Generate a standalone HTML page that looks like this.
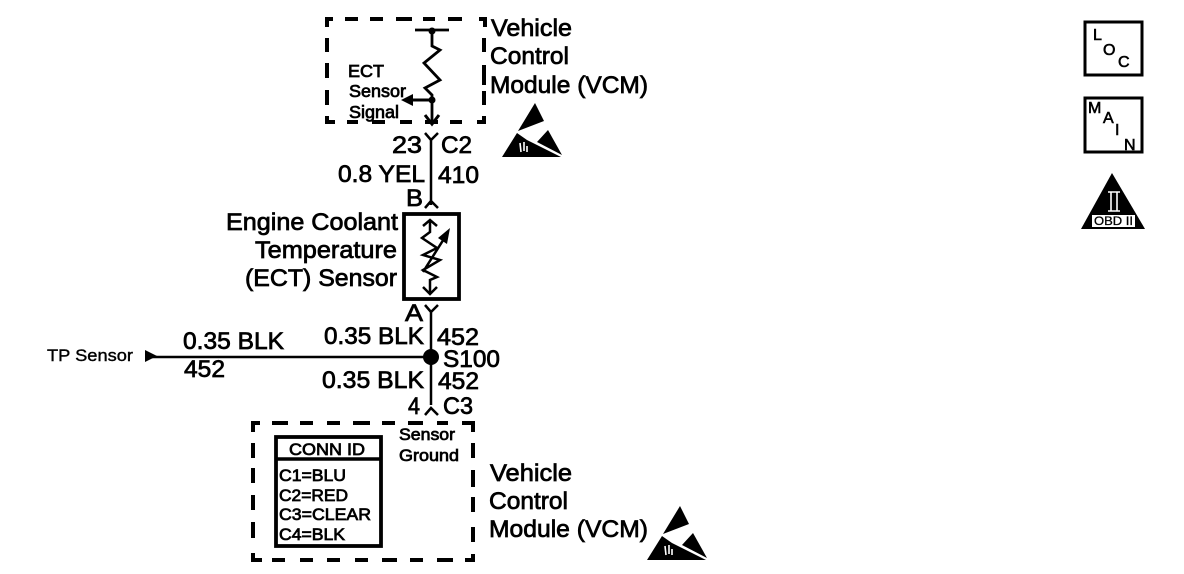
<!DOCTYPE html>
<html><head><meta charset="utf-8"><style>
html,body{margin:0;padding:0;background:#fff;width:1184px;height:574px;overflow:hidden}
svg{display:block}
text{font-family:"Liberation Sans",sans-serif;fill:#000;stroke:#000;stroke-width:.75}
.l{font-size:24.5px}.s{font-size:17.5px}.x{font-size:17px}.t{font-size:16px;stroke-width:.6}
.n{fill:none;stroke:#000}
</style></head><body>
<svg width="1184" height="574" viewBox="0 0 1184 574">
<!-- top VCM -->
<path class="n" stroke-width="4" d="M333 19H327V27M345 19H358M370 19H383M396 19H412M423 19H435M448 19H462M479 19H485V27M327 38V52M327 63V78M327 90V105M327 116V122H335M347 122H358M372 122H385M400 122H412M425 122H438M450 122H462M477 122H484V116M484 38V52M484 65V85M484 91V105"/>
<path class="n" stroke-width="2.8" d="M415 30H449M432 30V46L440 50 424 63 440 80 425 88 432 95V122"/>
<circle cx="432" cy="31" r="3.5"/><circle cx="432" cy="100" r="3.5"/>
<path class="n" stroke-width="3" d="M432 100H410"/><path d="M401 100L413 94V106Z"/>
<path class="n" stroke-width="3" d="M425 115L432 124 439 115"/>
<text class="s" x="348" y="77" textLength="36" lengthAdjust="spacingAndGlyphs">ECT</text>
<text class="s" x="349" y="97" textLength="57" lengthAdjust="spacingAndGlyphs">Sensor</text>
<text class="s" x="349" y="118" textLength="50" lengthAdjust="spacingAndGlyphs">Signal</text>
<text class="l" x="491" y="36" textLength="81" lengthAdjust="spacingAndGlyphs">Vehicle</text>
<text class="l" x="490" y="64" textLength="79" lengthAdjust="spacingAndGlyphs">Control</text>
<text class="l" x="490" y="93" textLength="158" lengthAdjust="spacingAndGlyphs">Module (VCM)</text>
<!-- ESD top -->
<g id="e">
<path d="M535 103L544 121 518 131Z"/>
<path d="M502 157L517 133 527 140 561 157Z"/>
<path d="M537 142L548 130 562 155Z"/>
<path d="M521 152L520 143M524 151L524 142M527 152L527 146" fill="none" style="stroke:#fff" stroke-width="1.6"/>
</g>
<!-- wire upper -->
<path class="n" stroke-width="2.5" d="M425 133L431 140 438 133M431 140V205M425 208L431 201 438 208"/>
<text class="l" x="392" y="153" textLength="30" lengthAdjust="spacingAndGlyphs">23</text>
<text class="l" x="441" y="153" textLength="31" lengthAdjust="spacingAndGlyphs">C2</text>
<text class="l" x="338" y="182" textLength="87" lengthAdjust="spacingAndGlyphs">0.8 YEL</text>
<text class="l" x="438" y="183" textLength="41" lengthAdjust="spacingAndGlyphs">410</text>
<text class="l" x="406" y="206" textLength="17" lengthAdjust="spacingAndGlyphs">B</text>
<!-- ECT sensor -->
<rect class="n" x="404" y="214" width="55" height="85" stroke-width="3.8"/>
<path class="n" stroke-width="2.5" d="M430 220V232L422 238 437 248 423 255 440 260 423 270 437 277 430 280V293M423 226L430 220 437 226M423 287L430 294 437 287M423 272L447 234"/>
<path d="M450 228L447 244 438 238Z"/>
<text class="l" x="226" y="230" textLength="172" lengthAdjust="spacingAndGlyphs">Engine Coolant</text>
<text class="l" x="255" y="258" textLength="142" lengthAdjust="spacingAndGlyphs">Temperature</text>
<text class="l" x="245" y="286" textLength="152" lengthAdjust="spacingAndGlyphs">(ECT) Sensor</text>
<!-- wire lower -->
<path class="n" stroke-width="2.5" d="M425 305L431 312 438 305M431 312V405M425 415L431 408 438 415"/>
<path class="n" stroke-width="2.5" d="M150 357H431"/><path d="M145 350L157 356 145 362Z"/>
<circle cx="431" cy="357" r="8"/>
<text class="l" x="405" y="321" textLength="18" lengthAdjust="spacingAndGlyphs">A</text>
<text class="l" x="324" y="344" textLength="100" lengthAdjust="spacingAndGlyphs">0.35 BLK</text>
<text class="l" x="437" y="345" textLength="42" lengthAdjust="spacingAndGlyphs">452</text>
<text class="l" x="443" y="367" textLength="57" lengthAdjust="spacingAndGlyphs">S100</text>
<text class="l" x="322" y="388" textLength="102" lengthAdjust="spacingAndGlyphs">0.35 BLK</text>
<text class="l" x="438" y="389" textLength="41" lengthAdjust="spacingAndGlyphs">452</text>
<text class="l" x="408" y="414" textLength="12" lengthAdjust="spacingAndGlyphs">4</text>
<text class="l" x="443" y="414" textLength="30" lengthAdjust="spacingAndGlyphs">C3</text>
<text class="l" x="183" y="349" textLength="101" lengthAdjust="spacingAndGlyphs">0.35 BLK</text>
<text class="l" x="184" y="377" textLength="41" lengthAdjust="spacingAndGlyphs">452</text>
<text class="x" x="47" y="361" textLength="86" lengthAdjust="spacingAndGlyphs" style="stroke-width:.4">TP Sensor</text>
<!-- bottom VCM -->
<path class="n" stroke-width="4" d="M260 423H253V432M272 423H288M300 423H313M327 423H340M353 423H370M382 423H395M408 423H423M437 423H448M462 423H473V432M253 443V458M253 468V483M253 495V510M253 522V538M253 553V560H262M272 560H285M300 560H313M327 560H340M355 560H368M382 560H397M410 560H423M437 560H453M465 560H473V554M473 443V458M473 470V487M473 497V512M473 527V542"/>
<text class="x" x="399" y="440" textLength="56" lengthAdjust="spacingAndGlyphs">Sensor</text>
<text class="x" x="399" y="461" textLength="60" lengthAdjust="spacingAndGlyphs">Ground</text>
<rect class="n" x="276" y="437" width="105" height="109" stroke-width="3.8"/>
<path class="n" stroke-width="3.4" d="M276 459H381"/>
<text class="x" x="289" y="455" textLength="76" lengthAdjust="spacingAndGlyphs">CONN ID</text>
<text class="x" x="279" y="481" textLength="67" lengthAdjust="spacingAndGlyphs">C1=BLU</text>
<text class="x" x="279" y="501" textLength="69" lengthAdjust="spacingAndGlyphs">C2=RED</text>
<text class="x" x="279" y="520" textLength="92" lengthAdjust="spacingAndGlyphs">C3=CLEAR</text>
<text class="x" x="279" y="540" textLength="66" lengthAdjust="spacingAndGlyphs">C4=BLK</text>
<text class="l" x="490" y="481" textLength="82" lengthAdjust="spacingAndGlyphs">Vehicle</text>
<text class="l" x="489" y="509" textLength="79" lengthAdjust="spacingAndGlyphs">Control</text>
<text class="l" x="489" y="537" textLength="159" lengthAdjust="spacingAndGlyphs">Module (VCM)</text>
<use href="#e" x="145" y="403"/>
<!-- right icons -->
<rect class="n" x="1085" y="22" width="57" height="53" stroke-width="3"/>
<text class="t" x="1093" y="40">L</text><text class="t" x="1103" y="55">O</text><text class="t" x="1118" y="67">C</text>
<rect class="n" x="1085" y="98" width="57" height="54" stroke-width="3"/>
<text class="t" x="1088" y="113">M</text><text class="t" x="1103" y="123">A</text><text class="t" x="1115" y="135">I</text><text class="t" x="1124" y="150">N</text>
<path d="M1112 173L1145 229H1081Z"/>
<rect x="1092" y="215" width="43" height="12" fill="#fff"/>
<text x="1094" y="225" font-size="11.5" textLength="39" lengthAdjust="spacingAndGlyphs" style="stroke-width:.3">OBD II</text>
<path d="M1108 192H1120M1108 211H1120M1111 192V211M1117 192V211" fill="none" style="stroke:#fff" stroke-width="1.6"/>
</svg>
</body></html>
